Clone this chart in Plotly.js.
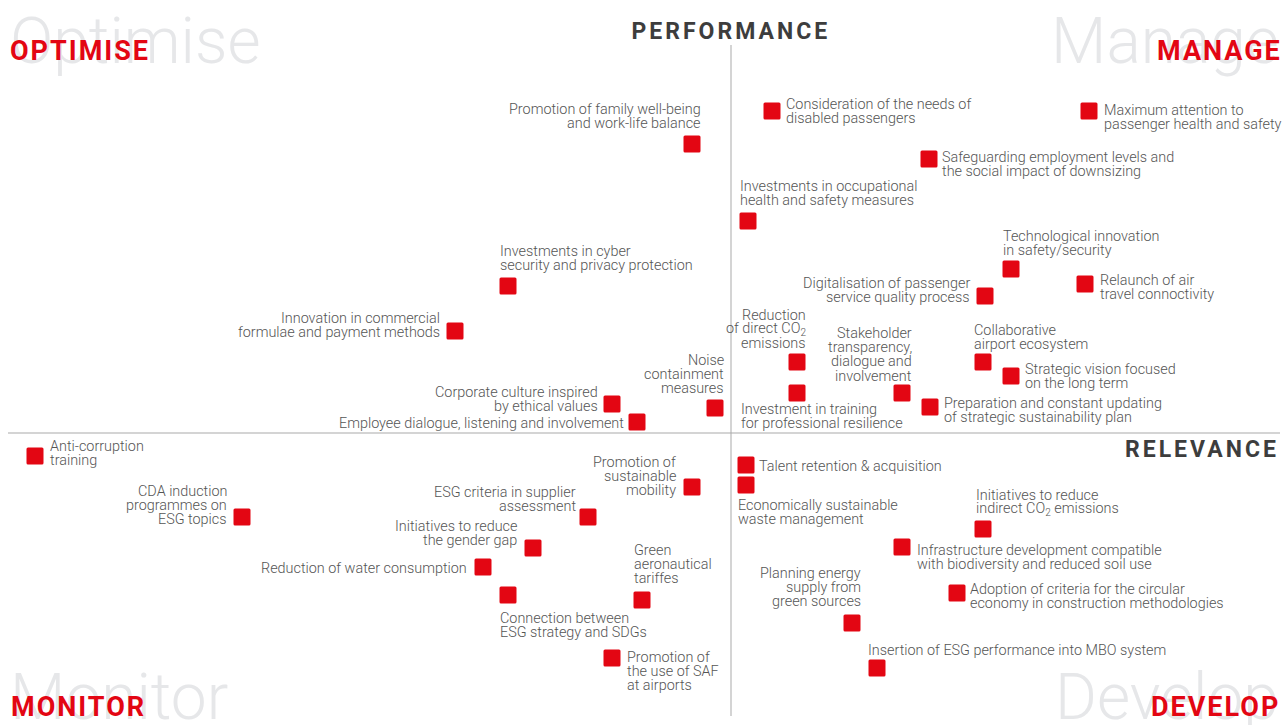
<!DOCTYPE html>
<html>
<head>
<meta charset="utf-8">
<script src="https://cdn.plot.ly/plotly-3.0.1.min.js"></script>
<style>
  html, body { margin: 0; padding: 0; background: #fff; }
  #chart { width: 1288px; height: 725px; }
</style>
</head>
<body>
<div id="chart"></div>
<script>
// Materiality topics: relevance (x) vs performance (y), axes cross at 0,0
const topics = [
  'Promotion of family well-being<br>and work-life balance',
  'Investments in cyber<br>security and privacy protection',
  'Innovation in commercial<br>formulae and payment methods',
  'Noise<br>containment<br>measures',
  'Corporate culture inspired<br>by ethical values',
  'Employee dialogue, listening and involvement',
  'Consideration of the needs of<br>disabled passengers',
  'Maximum attention to<br>passenger health and safety',
  'Safeguarding employment levels and<br>the social impact of downsizing',
  'Investments in occupational<br>health and safety measures',
  'Technological innovation<br>in safety/security',
  'Relaunch of air<br>travel connoctivity',
  'Digitalisation of passenger<br>service quality process',
  'Reduction<br>of direct CO<sub>2</sub><br>emissions',
  'Stakeholder<br>transparency,<br>dialogue and<br>involvement',
  'Collaborative<br>airport ecosystem',
  'Strategic vision focused<br>on the long term',
  'Investment in training<br>for professional resilience',
  'Preparation and constant updating<br>of strategic sustainability plan',
  'Anti-corruption<br>training',
  'CDA induction<br>programmes on<br>ESG topics',
  'ESG criteria in supplier<br>assessment',
  'Promotion of<br>sustainable<br>mobility',
  'Initiatives to reduce<br>the gender gap',
  'Reduction of water consumption',
  'Connection between<br>ESG strategy and SDGs',
  'Green<br>aeronautical<br>tariffes',
  'Promotion of<br>the use of SAF<br>at airports',
  'Talent retention & acquisition',
  'Economically sustainable<br>waste management',
  'Initiatives to reduce<br>indirect CO<sub>2</sub> emissions',
  'Infrastructure development compatible<br>with biodiversity and reduced soil use',
  'Planning energy<br>supply from<br>green sources',
  'Adoption of criteria for the circular<br>economy in construction methodologies',
  'Insertion of ESG performance into MBO system'
];

const relevance = [
  -39, -223, -276, -16, -119, -94,
  41, 358, 198, 17, 280, 354, 254, 66, 171, 252, 280, 66, 199,
  -696, -489, -143, -39, -198, -248, -223, -89, -119,
  15, 15, 252, 171, 121, 226, 146
];

const performance = [
  289, 147, 102, 25, 29, 11,
  322, 322, 274, 212, 164, 149, 137, 71, 40, 71, 57, 40, 26,
  -23, -84, -84, -54, -115, -134, -162, -167, -225,
  -32, -52, -96, -114, -190, -160, -235
];

// label placement: [xanchor, x offset px, first line offset px (down)]
const labelPlace = [
  ['right', 9, -35], ['left', -8, -35], ['right', -15, -13], ['right', 9, -48], ['right', -14, -12], ['right', -13, 1],
  ['left', 14, -7], ['left', 15, -1], ['left', 13, -2], ['left', -8, -35], ['left', -8, -33], ['left', 15, -4],
  ['right', -15, -13], ['right', 9, -47], ['right', 10, -60], ['left', -9, -32], ['left', 14, -7], ['left', -56, 16],
  ['left', 14, -4],
  ['left', 15, -10], ['right', -15, -26], ['right', -12, -25], ['right', -16, -25], ['right', -16, -22], ['right', -16, 1],
  ['left', -8, 23], ['left', -8, -50], ['left', 15, -1],
  ['left', 13, 1], ['left', -8, 20], ['left', -7, -34], ['left', 15, 3], ['right', 9, -50], ['left', 13, -4], ['left', -9, -18]
];

const quadrants = ['OPTIMISE', 'MANAGE', 'MONITOR', 'DEVELOP'];
const watermarks = ['Optimise', 'Manage', 'Monitor', 'Develop'];

const RED = '#e30613';
const TEXT_GREY = '#555555';
const LINE_STEP = 14.4;
const LETTER_SPACING = { PERFORMANCE: 3, RELEVANCE: 3, OPTIMISE: 2, MANAGE: 2, MONITOR: 2, DEVELOP: 2 };

const labelFont = { family: 'Roboto, sans-serif', size: 14.4, weight: 300, color: TEXT_GREY };
const bigFont = { family: 'Roboto, sans-serif', size: 64, weight: 300, color: '#e6e7e9' };
const quadFont = { family: 'Roboto, sans-serif', size: 27, weight: 700, color: RED };
const axisFont = { family: 'Roboto, sans-serif', size: 23, weight: 700, color: '#3d3d3d' };

const annotations = [];

// faint watermarks in the corners
const cornerPos = [
  { x: 9 / 1288, y: 1 - 41 / 725, xanchor: 'left' },
  { x: 1280 / 1288, y: 1 - 41 / 725, xanchor: 'right' },
  { x: 9 / 1288, y: 1 - 697 / 725, xanchor: 'left' },
  { x: 1280 / 1288, y: 1 - 697 / 725, xanchor: 'right' },
];
watermarks.forEach((w, i) => {
  annotations.push({
    xref: 'paper', yref: 'paper', x: cornerPos[i].x, y: cornerPos[i].y,
    xanchor: cornerPos[i].xanchor, yanchor: 'middle', align: cornerPos[i].xanchor,
    text: w, showarrow: false, font: bigFont, borderpad: 0,
  });
});

const quadPos = [
  { x: 9 / 1288, y: 1 - 51 / 725, xanchor: 'left' },
  { x: 1283 / 1288, y: 1 - 51 / 725, xanchor: 'right' },
  { x: 10 / 1288, y: 1 - 707 / 725, xanchor: 'left' },
  { x: 1281 / 1288, y: 1 - 707 / 725, xanchor: 'right' },
];
quadrants.forEach((q, i) => {
  annotations.push({
    xref: 'paper', yref: 'paper', x: quadPos[i].x, y: quadPos[i].y,
    xanchor: quadPos[i].xanchor, yanchor: 'middle', align: quadPos[i].xanchor,
    text: q, showarrow: false, font: quadFont, borderpad: 0,
  });
});

annotations.push({
  xref: 'x', yref: 'paper', x: 0, y: 1 - 31 / 725, xanchor: 'center', yanchor: 'middle',
  text: 'PERFORMANCE', showarrow: false, font: axisFont,
});
annotations.push({
  xref: 'paper', yref: 'y', x: 1280 / 1288, y: -16, xanchor: 'right', yanchor: 'middle', align: 'right',
  text: 'RELEVANCE', showarrow: false, font: axisFont, borderpad: 0,
});

// topic labels, one annotation per line for tight line spacing
topics.forEach((t, i) => {
  const [anchor, dx, dy] = labelPlace[i];
  const xs = anchor === 'left' ? dx - 1 : dx + 1;
  t.split('<br>').forEach((line, j) => {
    annotations.push({
      xref: 'x', yref: 'y', x: relevance[i], y: performance[i],
      xanchor: anchor, yanchor: 'middle', align: anchor, borderpad: 0,
      xshift: xs, yshift: -(dy + j * LINE_STEP),
      text: line, showarrow: false, font: labelFont,
    });
  });
});

const traces = [{
  x: relevance,
  y: performance,
  type: 'scatter',
  mode: 'markers',
  marker: { symbol: 'square', size: 14, color: RED, line: { width: 3, color: RED } },
  hoverinfo: 'skip',
}];

const layout = {
  width: 1288,
  height: 725,
  autosize: false,
  margin: { t: 0, r: 0, b: 0, l: 0 },
  paper_bgcolor: '#ffffff',
  plot_bgcolor: '#ffffff',
  showlegend: false,
  xaxis: { range: [-731, 557], visible: false, fixedrange: true },
  yaxis: { range: [-292, 433], visible: false, fixedrange: true },
  shapes: [
    { type: 'line', xref: 'x', yref: 'y', x0: 0, x1: 0, y0: 388, y1: -283, line: { color: '#a9a9a9', width: 1 }, layer: 'below' },
    { type: 'line', xref: 'x', yref: 'y', x0: -723, x1: 549, y0: 0, y1: 0, line: { color: '#a9a9a9', width: 1 }, layer: 'below' },
  ],
  annotations,
};

const gd = document.getElementById('chart');
Plotly.newPlot(gd, traces, layout, { displayModeBar: false, staticPlot: true }).then(() => {
  // rounded corners on the square markers
  gd.querySelectorAll('.scatterlayer path.point').forEach(p => { p.style.strokeLinejoin = 'round'; });
  // tracked-out headings
  gd.querySelectorAll('.annotation-text').forEach(el => {
    const sp = LETTER_SPACING[el.textContent];
    if (sp) el.style.letterSpacing = sp + 'px';
  });
});
</script>
</body>
</html>
